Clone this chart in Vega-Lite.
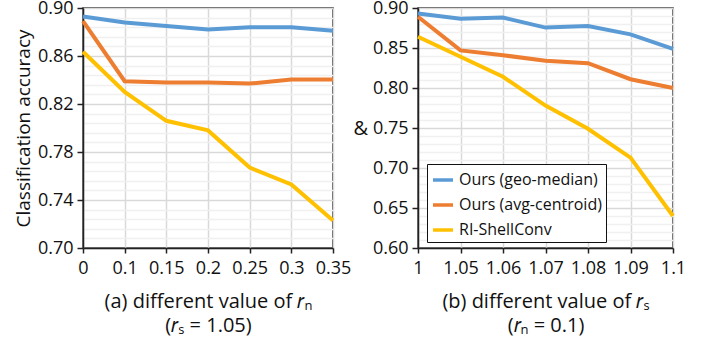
{
  "$schema": "https://vega.github.io/schema/vega-lite/v6.json",
  "background": "white",
  "padding": {"left": 13, "top": -2, "right": 5, "bottom": 5},
  "bounds": "flush",
  "spacing": 85,
  "config": {
    "font": "Open Sans",
    "view": {"stroke": "#222222", "strokeWidth": 1.5},
    "axis": {
      "labelFont": "Open Sans",
      "titleFont": "Open Sans",
      "labelColor": "#111111",
      "titleColor": "#111111",
      "labelFontSize": 18,
      "titleFontSize": 20,
      "titleFontWeight": "normal",
      "domainColor": "#222222",
      "domainWidth": 1.5,
      "tickColor": "#222222",
      "tickWidth": 1.5,
      "gridColor": "#d9d9d9",
      "gridWidth": 1.5
    }
  },
  "datasets": {
    "a": [
      {"x": "0", "series": "Ours (geo-median)", "acc": 0.893},
      {"x": "0.1", "series": "Ours (geo-median)", "acc": 0.888},
      {"x": "0.15", "series": "Ours (geo-median)", "acc": 0.885},
      {"x": "0.2", "series": "Ours (geo-median)", "acc": 0.882},
      {"x": "0.25", "series": "Ours (geo-median)", "acc": 0.884},
      {"x": "0.3", "series": "Ours (geo-median)", "acc": 0.884},
      {"x": "0.35", "series": "Ours (geo-median)", "acc": 0.881},
      {"x": "0", "series": "Ours (avg-centroid)", "acc": 0.889},
      {"x": "0.1", "series": "Ours (avg-centroid)", "acc": 0.839},
      {"x": "0.15", "series": "Ours (avg-centroid)", "acc": 0.838},
      {"x": "0.2", "series": "Ours (avg-centroid)", "acc": 0.838},
      {"x": "0.25", "series": "Ours (avg-centroid)", "acc": 0.837},
      {"x": "0.3", "series": "Ours (avg-centroid)", "acc": 0.8405},
      {"x": "0.35", "series": "Ours (avg-centroid)", "acc": 0.8405},
      {"x": "0", "series": "RI-ShellConv", "acc": 0.8635},
      {"x": "0.1", "series": "RI-ShellConv", "acc": 0.830},
      {"x": "0.15", "series": "RI-ShellConv", "acc": 0.806},
      {"x": "0.2", "series": "RI-ShellConv", "acc": 0.798},
      {"x": "0.25", "series": "RI-ShellConv", "acc": 0.767},
      {"x": "0.3", "series": "RI-ShellConv", "acc": 0.753},
      {"x": "0.35", "series": "RI-ShellConv", "acc": 0.723}
    ],
    "b": [
      {"x": "1", "series": "Ours (geo-median)", "acc": 0.893},
      {"x": "1.05", "series": "Ours (geo-median)", "acc": 0.8867},
      {"x": "1.06", "series": "Ours (geo-median)", "acc": 0.888},
      {"x": "1.07", "series": "Ours (geo-median)", "acc": 0.8755},
      {"x": "1.08", "series": "Ours (geo-median)", "acc": 0.8776},
      {"x": "1.09", "series": "Ours (geo-median)", "acc": 0.867},
      {"x": "1.1", "series": "Ours (geo-median)", "acc": 0.849},
      {"x": "1", "series": "Ours (avg-centroid)", "acc": 0.889},
      {"x": "1.05", "series": "Ours (avg-centroid)", "acc": 0.847},
      {"x": "1.06", "series": "Ours (avg-centroid)", "acc": 0.841},
      {"x": "1.07", "series": "Ours (avg-centroid)", "acc": 0.834},
      {"x": "1.08", "series": "Ours (avg-centroid)", "acc": 0.831},
      {"x": "1.09", "series": "Ours (avg-centroid)", "acc": 0.811},
      {"x": "1.1", "series": "Ours (avg-centroid)", "acc": 0.800},
      {"x": "1", "series": "RI-ShellConv", "acc": 0.864},
      {"x": "1.05", "series": "RI-ShellConv", "acc": 0.839},
      {"x": "1.06", "series": "RI-ShellConv", "acc": 0.814},
      {"x": "1.07", "series": "RI-ShellConv", "acc": 0.778},
      {"x": "1.08", "series": "RI-ShellConv", "acc": 0.749},
      {"x": "1.09", "series": "RI-ShellConv", "acc": 0.713},
      {"x": "1.1", "series": "RI-ShellConv", "acc": 0.640}
    ]
  },
  "hconcat": [
    {
      "width": 250,
      "height": 240,
      "data": {"name": "a"},
      "mark": {"type": "line", "strokeWidth": 4, "clip": false},
      "encoding": {
        "x": {
          "field": "x", "type": "ordinal", "sort": null,
          "scale": {"type": "point", "padding": 0},
          "axis": {
            "labelAngle": 0, "labelPadding": 6, "tickSize": 5, "grid": true,
            "title": ["(a) different value of 𝑟ₙ", "(𝑟ₛ = 1.05)"],
            "titlePadding": 14, "titleLineHeight": 24
          }
        },
        "y": {
          "field": "acc", "type": "quantitative",
          "scale": {"domain": [0.70, 0.90], "nice": false, "zero": false},
          "axis": {
            "title": "Classification accuracy",
            "titleFontSize": 19,
            "titlePadding": 4,
            "values": [0.70, 0.708, 0.716, 0.724, 0.732, 0.74, 0.748, 0.756, 0.764, 0.772, 0.78, 0.788, 0.796, 0.804, 0.812, 0.82, 0.828, 0.836, 0.844, 0.852, 0.86, 0.868, 0.876, 0.884, 0.892, 0.90],
            "labelExpr": "round((datum.value-0.7)/0.008) % 5 == 0 ? format(datum.value, '.2f') : ''",
            "gridColor": {"condition": {"test": "round((datum.value-0.7)/0.008) % 5 == 0", "value": "#d9d9d9"}, "value": "#f0f0f0"},
            "tickOpacity": {"condition": {"test": "round((datum.value-0.7)/0.008) % 5 == 0", "value": 1}, "value": 0},
            "tickSize": 6,
            "labelPadding": 4
          }
        },
        "color": {
          "field": "series", "type": "nominal",
          "scale": {"domain": ["Ours (geo-median)", "Ours (avg-centroid)", "RI-ShellConv"], "range": ["#5b9bd5", "#ed7d31", "#ffc000"]},
          "legend": null
        }
      }
    },
    {
      "width": 255,
      "height": 240,
      "data": {"name": "b"},
      "mark": {"type": "line", "strokeWidth": 4, "clip": false},
      "encoding": {
        "x": {
          "field": "x", "type": "ordinal", "sort": null,
          "scale": {"type": "point", "padding": 0},
          "axis": {
            "labelAngle": 0, "labelPadding": 6, "tickSize": 5, "grid": true,
            "title": ["(b) different value of 𝑟ₛ", "(𝑟ₙ = 0.1)"],
            "titlePadding": 14, "titleLineHeight": 24
          }
        },
        "y": {
          "field": "acc", "type": "quantitative",
          "scale": {"domain": [0.60, 0.90], "nice": false, "zero": false},
          "axis": {
            "title": "&",
            "titleAngle": 0,
            "titleBaseline": "middle",
            "titleAlign": "center",
            "titlePadding": 12,
            "values": [0.60, 0.61, 0.62, 0.63, 0.64, 0.65, 0.66, 0.67, 0.68, 0.69, 0.70, 0.71, 0.72, 0.73, 0.74, 0.75, 0.76, 0.77, 0.78, 0.79, 0.80, 0.81, 0.82, 0.83, 0.84, 0.85, 0.86, 0.87, 0.88, 0.89, 0.90],
            "labelExpr": "round(datum.value*100) % 5 == 0 ? format(datum.value, '.2f') : ''",
            "gridColor": {"condition": {"test": "round(datum.value*100) % 5 == 0", "value": "#d9d9d9"}, "value": "#f0f0f0"},
            "tickOpacity": {"condition": {"test": "round(datum.value*100) % 5 == 0", "value": 1}, "value": 0},
            "tickSize": 6,
            "labelPadding": 4
          }
        },
        "color": {
          "field": "series", "type": "nominal",
          "scale": {"domain": ["Ours (geo-median)", "Ours (avg-centroid)", "RI-ShellConv"], "range": ["#5b9bd5", "#ed7d31", "#ffc000"]},
          "legend": {
            "title": null,
            "orient": "none",
            "legendX": 9,
            "legendY": 156,
            "symbolType": "stroke",
            "symbolSize": 400,
            "symbolStrokeWidth": 3.5,
            "labelFontSize": 16,
            "labelFont": "Open Sans",
            "labelColor": "#111111",
            "labelLimit": 0,
            "rowPadding": 5,
            "padding": 4,
            "strokeColor": "#111111",
            "fillColor": "white",
            "labelOffset": 4
          }
        }
      }
    }
  ],
  "resolve": {"scale": {"color": "independent"}}
}
